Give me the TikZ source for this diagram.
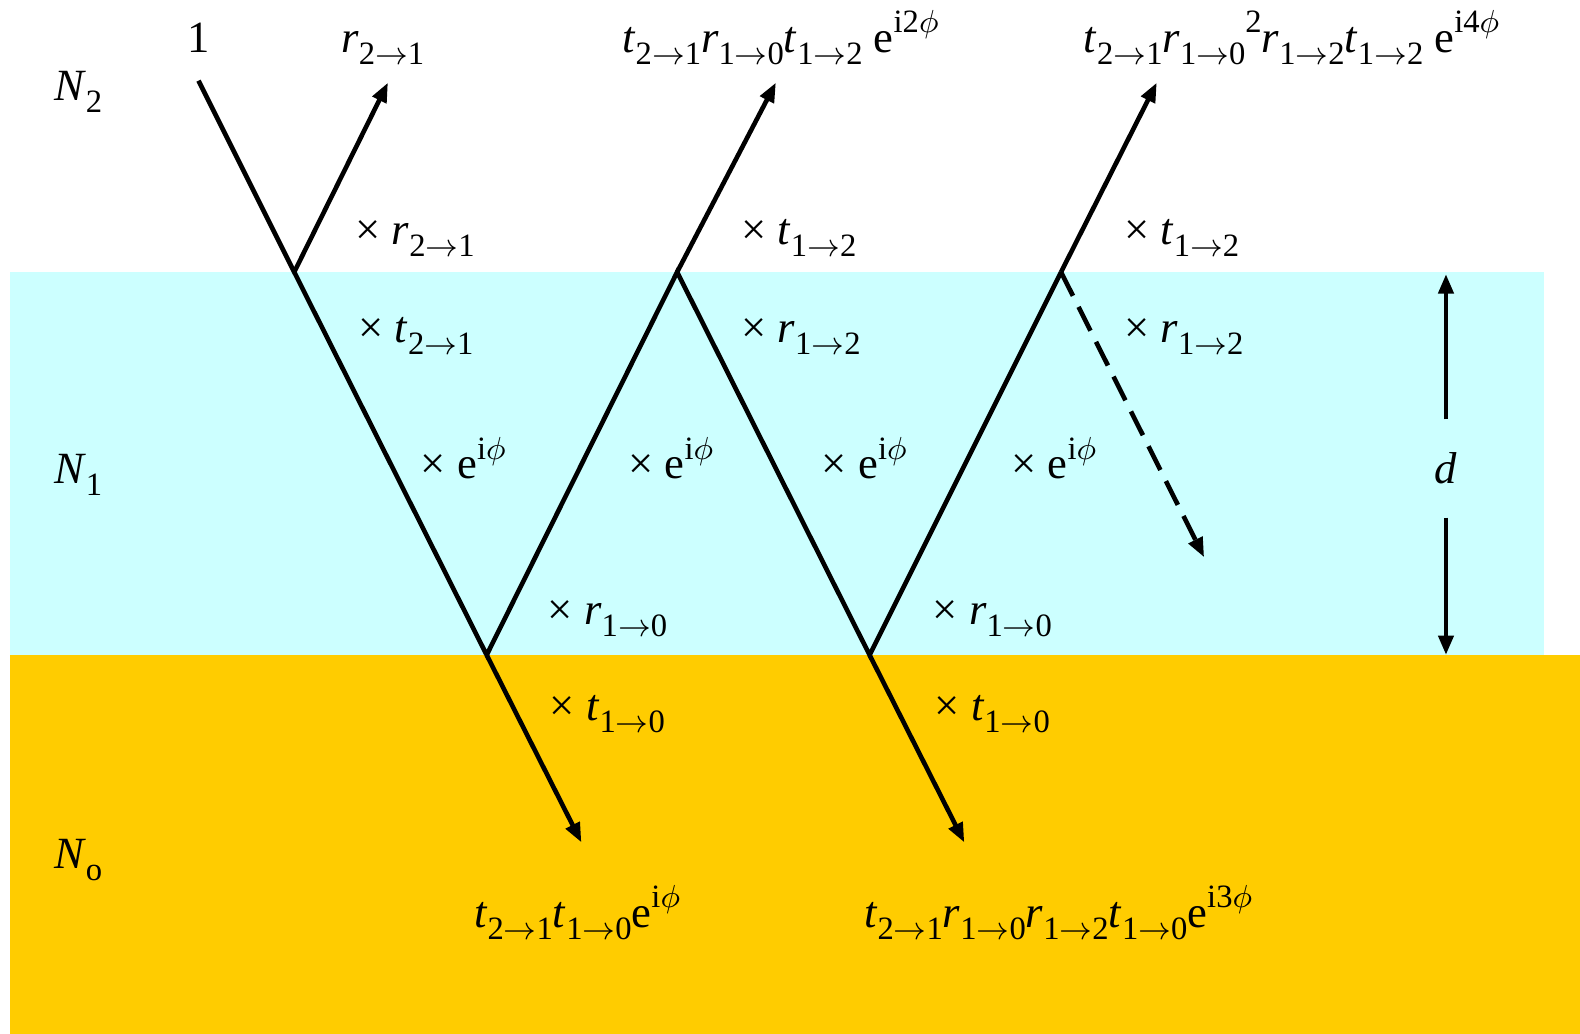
\documentclass[tikz,border=0pt]{standalone}
\usepackage{fontspec}
\setmainfont{Liberation Serif}
\usetikzlibrary{arrows.meta}
\begin{document}
\begin{tikzpicture}[x=0.01cm,y=-0.01cm,
		ray/.style={line width=1.3pt},
		tip/.style={-{Triangle[length=5.5pt,width=4.2pt]}},
		lab/.style={anchor=base west,inner sep=0pt,font=\fontsize{12.6}{15}\selectfont}]
	\definecolor{filmcyan}{RGB}{204,255,255}
	\definecolor{substrate}{RGB}{255,204,0}
	\def\sbx#1{\raisebox{-3.4pt}{\fontsize{9.2}{10}\selectfont #1}}
	\def\spx#1{\raisebox{5.5pt}{\fontsize{9.2}{10}\selectfont #1}}
	\def\cf#1#2#3{\textit{#1}\sbx{#2$\rightarrow$#3}}
	\useasboundingbox (0,0) rectangle (1568,1026);
	
	% layers
	\fill[filmcyan] (10,270) rectangle (1532,650);
	\fill[substrate] (10,650) rectangle (1568,1026);
	
	\path
	(197,80) coordinate (S)
	(292,270) coordinate (A)
	(483,650) coordinate (B)
	(672,270) coordinate (C)
	(863,650) coordinate (D)
	(1053,270) coordinate (E)
	(385,82) coordinate (RA)
	(770,82) coordinate (RC)
	(1148,82) coordinate (RE)
	(577,836) coordinate (TB)
	(957,836) coordinate (TD)
	(1195,553) coordinate (RX)
	(1435,272) coordinate (dtop)
	(1435,650) coordinate (dbot);
	
	% rays
	\draw[ray] (S)--(A)--(B)--(C)--(D)--(E);
	\draw[ray,tip] (A)--(RA);
	\draw[ray,tip] (C)--(RC);
	\draw[ray,tip] (E)--(RE);
	\draw[ray,tip] (B)--(TB);
	\draw[ray,tip] (D)--(TD);
	\draw[ray,tip,dash pattern=on 7.5pt off 3.5pt] (E)--(RX);
	
	% thickness
	\node[lab,anchor=center,minimum height=0.96cm] (d) at (1435,465) {\textit{d}};
	\draw[ray,tip] (d.north)--(dtop);
	\draw[ray,tip] (d.south)--(dbot);
	
	% media
	\node[lab] (Ntwo) at (53,100) {\textit{N}\sbx{2}};
	\node[lab] (None) at (53,480) {\textit{N}\sbx{1}};
	\node[lab] (Nzero) at (53,862) {\textit{N}\sbx{o}};
	
	% outgoing amplitudes
	\node[lab,anchor=base] (one) at (197,52) {1};
	\node[lab] (outA) at (338,52) {\cf{r}{2}{1}};
	\node[lab] (outC) at (617,52) {\cf{t}{2}{1}\cf{r}{1}{0}\cf{t}{1}{2} e\spx{i2$\phi$}};
	\node[lab] (outE) at (1075,52) {\cf{t}{2}{1}\cf{r}{1}{0}\spx{2}\cf{r}{1}{2}\cf{t}{1}{2} e\spx{i4$\phi$}};
	\node[lab] (outB) at (470,920) {\cf{t}{2}{1}\cf{t}{1}{0}e\spx{i$\phi$}};
	\node[lab] (outD) at (857,920) {\cf{t}{2}{1}\cf{r}{1}{0}\cf{r}{1}{2}\cf{t}{1}{0}e\spx{i3$\phi$}};
	
	% factors
	\node[lab] (fA1) at (352,243) {× \cf{r}{2}{1}};
	\node[lab] (fC1) at (735,243) {× \cf{t}{1}{2}};
	\node[lab] (fE1) at (1115,243) {× \cf{t}{1}{2}};
	\node[lab] (fA2) at (355,340) {× \cf{t}{2}{1}};
	\node[lab] (fC2) at (735,340) {× \cf{r}{1}{2}};
	\node[lab] (fE2) at (1115,340) {× \cf{r}{1}{2}};
	\foreach \i/\n in {417/p1,623/p2,815/p3,1003/p4}{
		\node[lab] (\n) at (\i,475) {× e\spx{i$\phi$}};
	}
	\node[lab] (fB1) at (543,620) {× \cf{r}{1}{0}};
	\node[lab] (fD1) at (925,620) {× \cf{r}{1}{0}};
	\node[lab] (fB2) at (545,715) {× \cf{t}{1}{0}};
	\node[lab] (fD2) at (927,715) {× \cf{t}{1}{0}};
\end{tikzpicture}
\end{document}
